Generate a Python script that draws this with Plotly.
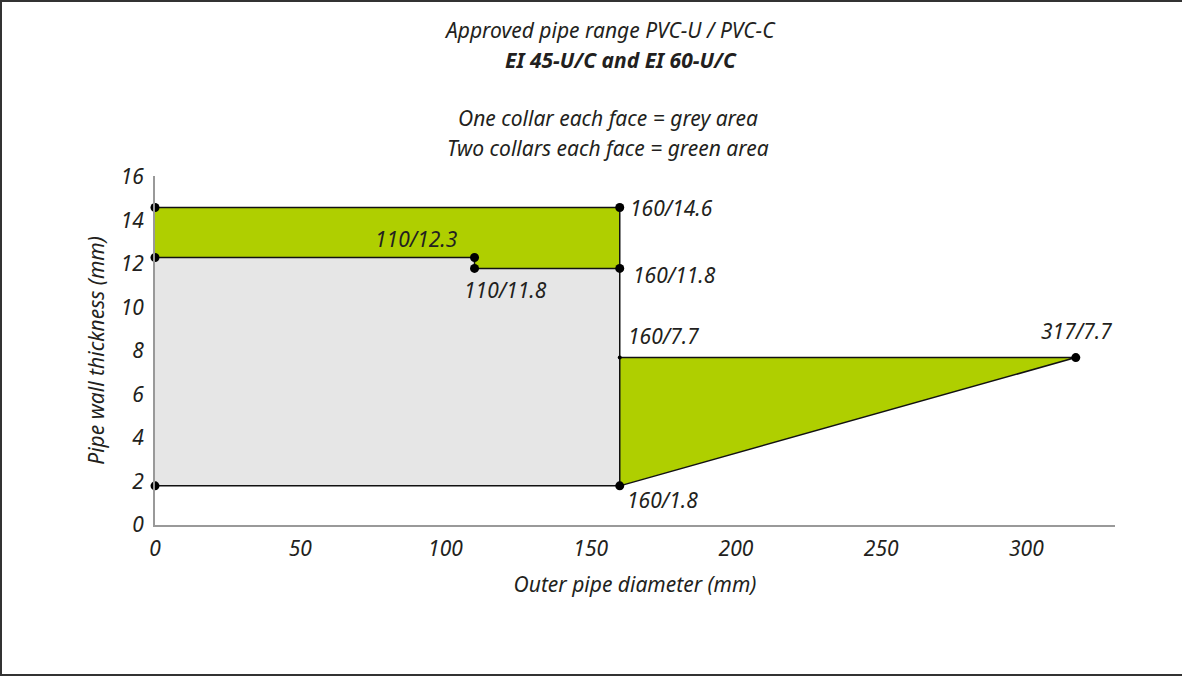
import plotly.graph_objects as go

# ---- data ----
grey_x = [0, 160, 160, 110, 110, 0]
grey_y = [1.8, 1.8, 11.8, 11.8, 12.3, 12.3]

green_top_x = [0, 110, 110, 160, 160, 0]
green_top_y = [12.3, 12.3, 11.8, 11.8, 14.6, 14.6]

green_tri_x = [160, 317, 160]
green_tri_y = [7.7, 7.7, 1.8]

# black outline segments
edge_x = [0, 160, None, 0, 110, 110, 160, None, 0, 160, 160, None, 160, 317, 160]
edge_y = [14.6, 14.6, None, 12.3, 12.3, 11.8, 11.8, None, 1.8, 1.8, 14.6, None, 7.7, 7.7, 1.8]

pt_x = [0, 0, 0, 110, 110, 160, 160, 160, 317]
pt_y = [14.6, 12.3, 1.8, 12.3, 11.8, 14.6, 11.8, 1.8, 7.7]
small_pt_x = [160]
small_pt_y = [7.7]

lab_x = [160, 110, 110, 160, 160, 317, 160]
lab_y = [14.6, 12.3, 11.8, 11.8, 7.7, 7.7, 1.8]
lab_text = ["160/14.6", "110/12.3", "110/11.8", "160/11.8", "160/7.7", "317/7.7", "160/1.8"]

x_ticks = [0, 50, 100, 150, 200, 250, 300]
y_ticks = [0, 2, 4, 6, 8, 10, 12, 14, 16]

title_lines = ["Approved pipe range PVC-U / PVC-C", "EI 45-U/C and EI 60-U/C",
               "One collar each face = grey area", "Two collars each face = green area"]

FONT = "Noto Sans"
FS = 21
GREEN = "#afcf00"
GREY = "#e6e6e6"
TXT = "#231f20"

fig = go.Figure()
fig.add_trace(go.Scatter(x=grey_x, y=grey_y, fill="toself", fillcolor=GREY,
                         mode="none", hoverinfo="skip"))
fig.add_trace(go.Scatter(x=green_top_x, y=green_top_y, fill="toself", fillcolor=GREEN,
                         mode="none", hoverinfo="skip"))
fig.add_trace(go.Scatter(x=green_tri_x, y=green_tri_y, fill="toself", fillcolor=GREEN,
                         mode="none", hoverinfo="skip"))
fig.add_trace(go.Scatter(x=edge_x, y=edge_y, mode="lines",
                         line=dict(color="#111", width=1.5), hoverinfo="skip"))
fig.add_trace(go.Scatter(x=pt_x, y=pt_y, mode="markers",
                         marker=dict(color="#000", size=9), cliponaxis=False))
fig.add_trace(go.Scatter(x=small_pt_x, y=small_pt_y, mode="markers",
                         marker=dict(color="#000", size=4), cliponaxis=False))

# label offsets (pixels): xanchor, xshift, yshift
offs = {
    "160/14.6": ("left", 8, 0),
    "110/12.3": ("center", -58, 19),
    "110/11.8": ("center", 31, -22),
    "160/11.8": ("left", 11, -7),
    "160/7.7": ("left", 6, 22),
    "317/7.7": ("center", 1, 27),
    "160/1.8": ("left", 5, -14),
}
for x, y, t in zip(lab_x, lab_y, lab_text):
    xa, xs, ys = offs[t]
    fig.add_annotation(x=x, y=y, text=t, showarrow=False, xanchor=xa, yanchor="middle",
                       xshift=xs, yshift=ys,
                       font=dict(family=FONT, size=FS, color=TXT, style="italic"))

# titles (paper coords relative to plot area)
H_plot = 525 - 176
W_plot = 1115 - 155
def py(pix):
    return (525 - pix) / H_plot
def px(pix):
    return (pix - 155) / W_plot

title_pos = [(610, 30, "normal"), (621, 60, "bold"), (608, 118, "normal"), (608, 148, "normal")]
for (cx, cy, w), t in zip(title_pos, title_lines):
    fig.add_annotation(x=px(cx), y=py(cy), xref="paper", yref="paper", text=t,
                       showarrow=False, xanchor="center", yanchor="middle",
                       font=dict(family=FONT, size=FS, color=TXT, style="italic", weight=w))

# outer frame (left, top, bottom)
fig.add_shape(type="line", xref="paper", yref="paper", x0=px(1), y0=py(0), x1=px(1), y1=py(676),
              line=dict(color="#333", width=2))
fig.add_shape(type="line", xref="paper", yref="paper", x0=px(0), y0=py(1), x1=px(1182), y1=py(1),
              line=dict(color="#333", width=2))
fig.add_shape(type="line", xref="paper", yref="paper", x0=px(0), y0=py(675), x1=px(1182), y1=py(675),
              line=dict(color="#333", width=2))

fig.update_layout(
    width=1182, height=677,
    margin=dict(l=155, r=67, t=176, b=152),
    paper_bgcolor="white", plot_bgcolor="white",
    showlegend=False,
    xaxis=dict(range=[0, 330.5], tickvals=x_ticks, ticktext=[str(v) for v in x_ticks],
               showgrid=False, zeroline=False, showline=True, linecolor="#999", linewidth=2,
               ticks="outside", ticklen=4, tickcolor="rgba(0,0,0,0)",
               tickfont=dict(family=FONT, size=FS, color=TXT, style="italic"),
               title=dict(text="Outer pipe diameter (mm)", standoff=16,
                          font=dict(family=FONT, size=FS, color=TXT, style="italic"))),
    yaxis=dict(range=[0, 16.05], tickvals=y_ticks, ticktext=[str(v) for v in y_ticks],
               showgrid=False, zeroline=False, showline=True, linecolor="#999", linewidth=2,
               ticks="outside", ticklen=5, tickcolor="rgba(0,0,0,0)",
               tickfont=dict(family=FONT, size=FS, color=TXT, style="italic"),
               title=dict(text="Pipe wall thickness (mm)", standoff=10,
                          font=dict(family=FONT, size=FS, color=TXT, style="italic"))),
)

fig.write_html("out.html", config={"displayModeBar": False},
               post_script="document.body.style.margin='0';document.body.style.overflow='hidden';")
